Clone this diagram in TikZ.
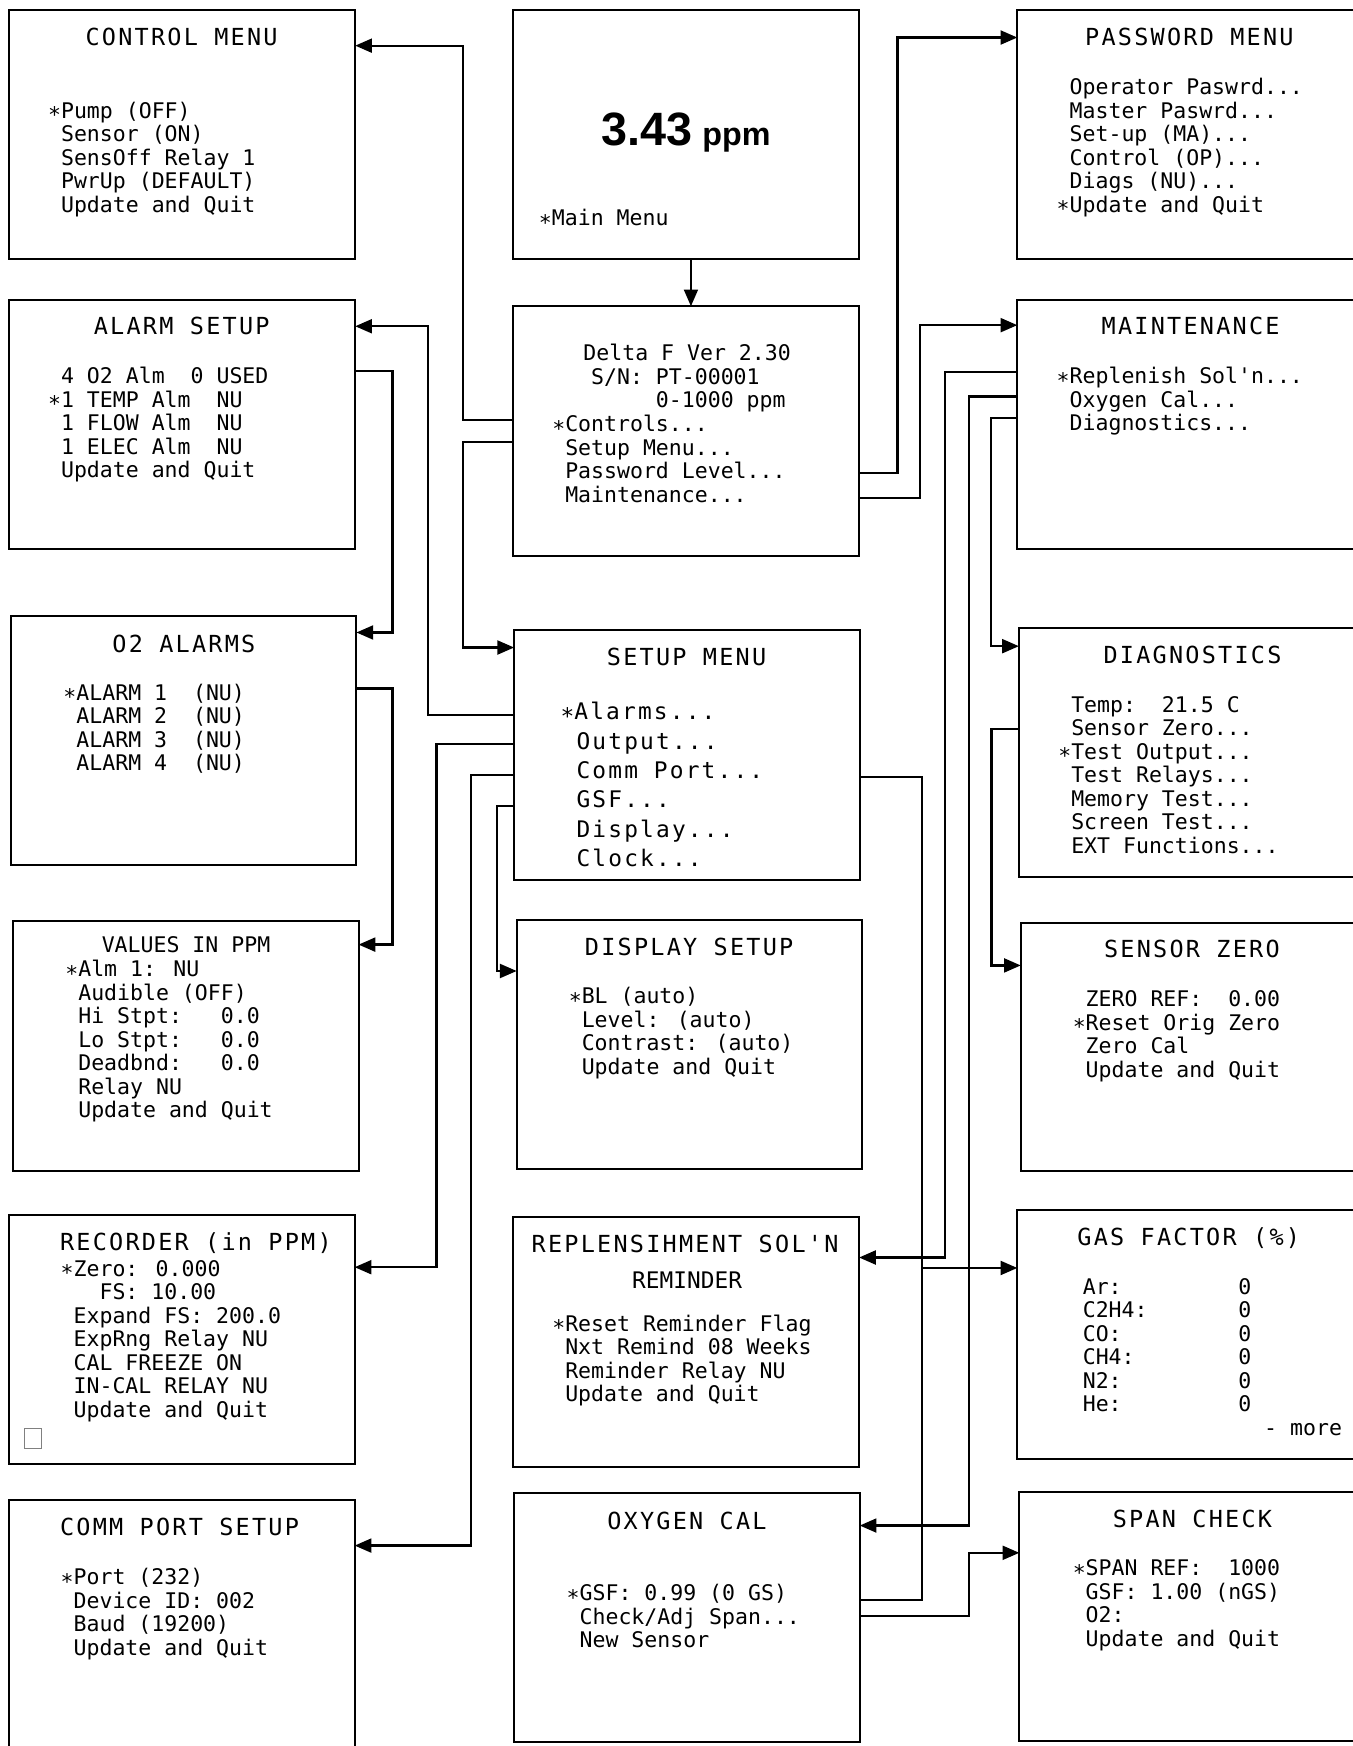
\documentclass[tikz,border=0pt]{standalone}
\usepackage{fontspec}
\usetikzlibrary{arrows.meta}
\newfontfamily\monofam{DejaVu Sans Mono}
\newfontfamily\titlefam[LetterSpace=9.5]{DejaVu Sans Mono}
\newfontfamily\bigfam{Liberation Sans}
\newcommand\bodyf{\monofam\fontsize{19.33pt}{21.2pt}\selectfont}
\newcommand\titlef{\titlefam\fontsize{21.1pt}{25pt}\selectfont}
\newcommand\itemf{\titlefam\fontsize{20.5pt}{26.4pt}\selectfont}
\newcommand\st{\raisebox{-0.21em}{*}}
\newcommand\mlines[2]{\vtop{\baselineskip=#1\lineskiplimit=-100pt\lineskip=0pt\halign{##\hfil\cr#2\crcr}}}
\tikzset{
  box/.style={draw, line width=1.8pt, anchor=north west, inner sep=0pt, outer sep=0pt,
              minimum width=310.5pt, minimum height=224pt},
  rbox/.style={box, minimum width=330pt},
  txt/.style={anchor=base west, inner sep=0pt, outer sep=0pt},
  ln/.style={line width=2pt},
  arr/.style={ln, -{Triangle[length=15pt,width=12.5pt]}}
}
\begin{document}
\begin{tikzpicture}[x=1pt,y=-1pt]
\clip (0,0) rectangle (1215,1568);
\fill[white] (0,0) rectangle (1215,1568);

% ---------- boxes ----------
\node[box] (cm) at (8.5,9) {};
\node[box] (as) at (8.5,269) {};
\node[box] (o2) at (9.6,553) {};
\node[box, minimum height=224.5pt] (vp) at (11.5,827) {};
\node[box] (rec) at (8,1091) {};
\node[box, minimum height=240pt] (comm) at (8,1347) {};
\node[box] (main) at (461,9) {};
\node[box] (delta) at (461,275) {};
\node[box] (setup) at (461.7,566) {};
\node[box] (disp) at (464,826) {};
\node[box] (rep) at (461,1093) {};
\node[box, minimum height=223.5pt] (oxy) at (461.6,1341) {};
\node[rbox] (pw) at (913.6,9) {};
\node[rbox] (mnt) at (913.6,269) {};
\node[rbox] (diag) at (915,564) {};
\node[rbox, minimum height=223.5pt] (sz) at (916.7,828.5) {};
\node[rbox] (gas) at (913.6,1086.5) {};
\node[rbox] (span) at (915.4,1339.5) {};

% ---------- titles ----------
\node[txt] (cm-t) at (76.8,40.7) {\titlef CONTROL MENU};
\node[txt] (as-t) at (84.3,300.7) {\titlef ALARM SETUP};
\node[txt] (o2-t) at (101,585.9) {\titlef O2 ALARMS};
\node[txt] (vp-t) at (91.4,855.3) {\bodyf VALUES IN PPM};
\node[txt] (rec-t) at (53.9,1123) {\titlef RECORDER (in PPM)};
\node[txt] (comm-t) at (53.9,1378.7) {\titlef COMM PORT SETUP};
\node[txt] (setup-t) at (545,597.7) {\titlef SETUP MENU};
\node[txt] (disp-t) at (525.3,857.7) {\titlef DISPLAY SETUP};
\node[txt] (rep-t) at (477.5,1124.7) {\titlef REPLENSIHMENT SOL'N};
\node[anchor=base, inner sep=0pt] (rep-r) at (617,1157.4) {\monofam\fontsize{20.5pt}{24pt}\selectfont REMINDER};
\node[txt] (oxy-t) at (545.4,1373.7) {\titlef OXYGEN CAL};
\node[txt] (pw-t) at (974.5,40.7) {\titlef PASSWORD MENU};
\node[txt] (mnt-t) at (989.4,300.4) {\titlef MAINTENANCE};
\node[txt] (diag-t) at (991,595.7) {\titlef DIAGNOSTICS};
\node[txt] (sz-t) at (991.5,860.3) {\titlef SENSOR ZERO};
\node[txt] (gas-t) at (967.6,1118.7) {\titlef GAS FACTOR (\%)};
\node[txt] (span-t) at (999.3,1372) {\titlef SPAN CHECK};

% ---------- bodies ----------
\node[txt] (main-v) at (540,131) {\bigfam\bfseries\fontsize{42pt}{42pt}\selectfont 3.43\hspace{9pt}\fontsize{29pt}{29pt}\selectfont ppm};
\node[txt] (main-b) at (484,202.6) {\bodyf \st Main Menu};

\node[txt] (cm-b) at (43.2,106.4) {\bodyf\mlines{21.1pt}{\st Pump (OFF)\cr
~Sensor (ON)\cr
~SensOff Relay 1\cr
~PwrUp (DEFAULT)\cr
~Update and Quit}};

\node[txt] (as-b) at (43.2,344.6) {\bodyf\mlines{21.1pt}{~4 O2 Alm~~0 USED\cr
\st 1 TEMP Alm~~NU\cr
~1 FLOW Alm~~NU\cr
~1 ELEC Alm~~NU\cr
~Update and Quit}};

\node[txt] (o2-b) at (57,628.9) {\bodyf\mlines{21.1pt}{\st ALARM 1~~(NU)\cr
~ALARM 2~~(NU)\cr
~ALARM 3~~(NU)\cr
~ALARM 4~~(NU)}};

\node[txt] (vp-b) at (58.7,877) {\bodyf\mlines{21.1pt}{\st Alm 1: NU\cr
~Audible (OFF)\cr
~Hi Stpt:~~~0.0\cr
~Lo Stpt:~~~0.0\cr
~Deadbnd:~~~0.0\cr
~Relay NU\cr
~Update and Quit}};

\node[txt] (rec-b) at (54.5,1146) {\bodyf\mlines{21.1pt}{\st Zero: 0.000\cr
~~~FS: 10.00\cr
~Expand FS: 200.0\cr
~ExpRng Relay NU\cr
~CAL FREEZE ON\cr
~IN-CAL RELAY NU\cr
~Update and Quit}};
\node[draw=gray, line width=0.8pt, anchor=north west, inner sep=0pt, minimum width=15pt, minimum height=18pt] (recsq) at (21.8,1282.4) {};

\node[txt] (comm-b) at (54.5,1423) {\bodyf\mlines{21.1pt}{\st Port (232)\cr
~Device ID: 002\cr
~Baud (19200)\cr
~Update and Quit}};

\node[txt] (delta-b) at (496,324) {\bodyf\mlines{21.2pt}{\hspace*{28pt}Delta F Ver 2.30\cr
~~~S/N: PT-00001\cr
~~~~~~~~0-1000 ppm\cr
\st Controls...\cr
~Setup Menu...\cr
~Password Level...\cr
~Maintenance...}};

\node[txt] (setup-b) at (503.5,646.3) {\itemf\mlines{26.4pt}{\st Alarms...\cr
~Output...\cr
~Comm Port...\cr
~GSF...\cr
~Display...\cr
~Clock...}};

\node[txt] (disp-b) at (510.8,901.4) {\bodyf\mlines{21.1pt}{\st BL (auto)\cr
~Level: (auto)\cr
~Contrast: (auto)\cr
~Update and Quit}};

\node[txt] (rep-b) at (496,1195.7) {\bodyf\mlines{21.1pt}{\st Reset Reminder Flag\cr
~Nxt Remind 08 Weeks\cr
~Reminder Relay NU\cr
~Update and Quit}};

\node[txt] (oxy-b) at (508.9,1437.6) {\bodyf\mlines{21.1pt}{\st GSF: 0.99 (0 GS)\cr
~Check/Adj Span...\cr
~New Sensor}};

\node[txt] (pw-b) at (949,85) {\bodyf\mlines{21.1pt}{~Operator Paswrd...\cr
~Master Paswrd...\cr
~Set-up (MA)...\cr
~Control (OP)...\cr
~Diags (NU)...\cr
\st Update and Quit}};

\node[txt] (mnt-b) at (949,344.6) {\bodyf\mlines{21.1pt}{\st Replenish Sol'n...\cr
~Oxygen Cal...\cr
~Diagnostics...}};

\node[txt] (diag-b) at (950.4,639.5) {\bodyf\mlines{21.1pt}{~Temp:~~21.5 C\cr
~Sensor Zero...\cr
\st Test Output...\cr
~Test Relays...\cr
~Memory Test...\cr
~Screen Test...\cr
~EXT Functions...}};

\node[txt] (sz-b) at (963.4,904) {\bodyf\mlines{21.1pt}{~ZERO REF:~~0.00\cr
\st Reset Orig Zero\cr
~Zero Cal\cr
~Update and Quit}};

\node[txt] (gas-b) at (972.4,1162.3) {\bodyf\mlines{21.1pt}{Ar:~~~~~~~~~0\cr
C2H4:~~~~~~~0\cr
CO:~~~~~~~~~0\cr
CH4:~~~~~~~~0\cr
N2:~~~~~~~~~0\cr
He:~~~~~~~~~0\cr
~~~~~~~~~~~~~~- more}};

\node[txt] (span-b) at (963.4,1415) {\bodyf\mlines{21.1pt}{\st SPAN REF:~~1000\cr
~GSF: 1.00 (nGS)\cr
~O2:\cr
~Update and Quit}};

% ---------- connectors ----------
\draw[arr] (main.south -| 620.5,0) -- (delta.north -| 620.5,0);
\draw[arr] (delta.west |- 0,377) -- (416,377) |- (cm.east |- 0,41);
\draw[arr] (delta.west |- 0,397) -- (416,397) |- (setup.west |- 0,581.5);
\draw[arr] (setup.west |- 0,642) -- (384.5,642) |- (as.east |- 0,293);
\draw[arr] (as.east |- 0,333) -- (352.5,333) |- (o2.east |- 0,568);
\draw[arr] (o2.east |- 0,618.3) -- (352.5,618.3) |- (vp.east |- 0,848.3);
\draw[arr] (setup.west |- 0,668) -- (392,668) |- (rec.east |- 0,1138);
\draw[arr] (setup.west |- 0,695.7) -- (422.7,695.7) |- (comm.east |- 0,1388);
\draw[arr] (setup.west |- 0,723.8) -- (446.6,723.8) |- (disp.west |- 0,872);
\draw[ln] (setup.east |- 0,697.5) -| (828.3,1436.8) -- (oxy.east |- 0,1436.8);
\coordinate (gasj) at (828.3,1138.7);
\draw[arr] (gasj) -- (gas.west |- gasj);
\draw[arr] (delta.east |- 0,424.8) -- (806,424.8) |- (pw.west |- 0,33.7);
\draw[arr] (delta.east |- 0,447) -- (826,447) |- (mnt.west |- 0,292);
\draw[arr] (mnt.west |- 0,334.4) -- (848.5,334.4) |- (rep.east |- 0,1129.3);
\draw[arr] (mnt.west |- 0,356) -- (870,356) |- (oxy.east |- 0,1370);
\draw[arr] (mnt.west |- 0,375.7) -- (890,375.7) |- (diag.west |- 0,580.3);
\draw[arr] (diag.west |- 0,654.4) -- (890.5,654.4) |- (sz.west |- 0,867);
\draw[arr] (oxy.east |- 0,1451) -- (870,1451) |- (span.west |- 0,1394.5);
\end{tikzpicture}
\end{document}
